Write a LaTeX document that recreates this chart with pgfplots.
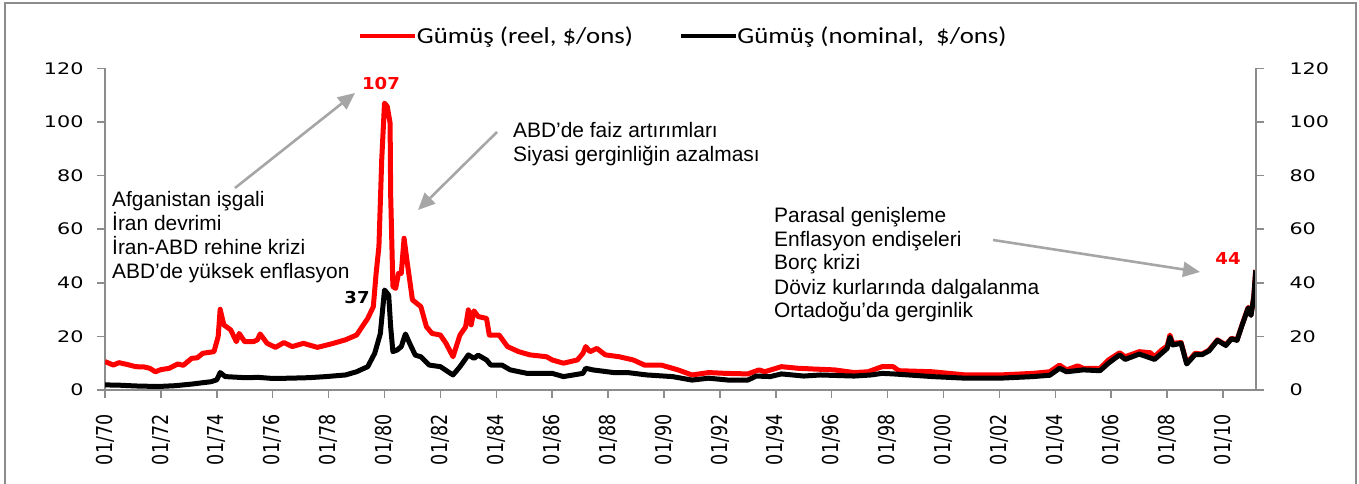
\documentclass[border=0pt]{standalone}
\usepackage{fontspec}
\usepackage{graphicx}
\usepackage{pgfplots}
\pgfplotsset{compat=1.18}
\usetikzlibrary{arrows.meta}
\setmainfont{Liberation Sans}
\newfontfamily\tickfont[FakeStretch=1.3]{DejaVu Sans}
\newfontfamily\xfont[FakeStretch=0.8]{DejaVu Sans}
\newfontfamily\legfont[FakeStretch=1.17]{Carlito}
\newfontfamily\numfont[FakeStretch=1.1]{DejaVu Sans}
\newcommand{\xl}[1]{\rotatebox{90}{#1}}
\definecolor{axgray}{HTML}{8C8C8C}
\definecolor{arrgray}{HTML}{A6A6A6}
\definecolor{myred}{HTML}{FF0000}
\begin{document}
\begin{tikzpicture}[x=1bp,y=1bp]
\path[use as bounding box] (0,0) rectangle (1359,484);
\draw[axgray, line width=1.8bp] (5,0) -- (5,481) -- (1356,481) -- (1356,0);
\begin{axis}[
  at={(105bp,94bp)}, anchor=south west,
  scale only axis, width=1151bp, height=321.7bp,
  xmin=1970, xmax=2011.18, ymin=0, ymax=120,
  axis x line*=bottom, axis y line*=left,
  axis line style={axgray, line width=1.8bp, -},
  tick align=outside, major tick length=8bp,
  tick style={axgray, line width=1.5bp},
  xtick={1970,1972,...,2010},
  xticklabels={\xl{01/70},\xl{01/72},\xl{01/74},\xl{01/76},\xl{01/78},\xl{01/80},\xl{01/82},\xl{01/84},\xl{01/86},\xl{01/88},\xl{01/90},\xl{01/92},\xl{01/94},\xl{01/96},\xl{01/98},\xl{01/00},\xl{01/02},\xl{01/04},\xl{01/06},\xl{01/08},\xl{01/10}},
  xticklabel style={font=\xfont\fontsize{22}{22}\selectfont, anchor=north, yshift=-13bp},
  ytick={0,20,...,120},
  yticklabel style={font=\tickfont\fontsize{16}{16}\selectfont, anchor=east, xshift=-10bp},
  /pgf/number format/assume math mode=true,
  legend columns=2,
  legend style={draw=none, fill=none, at={(0.5,1)}, anchor=south, yshift=19bp, xshift=3bp,
    font=\legfont\fontsize{23}{23}\selectfont,
    /tikz/every odd column/.append style={column sep=-2bp},
    /tikz/every even column/.append style={column sep=44bp}},
  legend image code/.code={\draw[#1, line width=3.5bp] (0bp,0bp) -- (55bp,0bp);},
]
\addplot[myred, line width=5bp, line join=round] coordinates {
(1970.0,10.6)(1970.3,9.3)(1970.5,10.2)(1970.8,9.5)(1971.1,8.7)(1971.4,8.6)(1971.6,8.1)(1971.8,6.8)
(1972.0,7.6)(1972.3,8.1)(1972.6,9.7)(1972.8,9.2)(1973.1,11.8)(1973.3,12.0)(1973.5,13.7)(1973.9,14.3)
(1974.05,20.0)(1974.12,30.1)(1974.25,24.3)(1974.5,22.4)(1974.7,18.0)(1974.8,21.1)(1975.0,18.0)
(1975.3,18.0)(1975.45,18.7)(1975.55,20.9)(1975.8,17.4)(1976.1,15.9)(1976.4,17.7)(1976.7,16.2)
(1977.1,17.4)(1977.6,15.9)(1978.1,17.2)(1978.6,18.7)(1979.0,20.5)(1979.2,23.6)(1979.4,26.7)
(1979.6,31.1)(1979.7,43.5)(1979.8,53.5)(1979.9,85.8)(1980.0,107)(1980.1,105.7)(1980.2,99.5)
(1980.22,73)(1980.3,38.6)(1980.4,37.9)(1980.5,43.5)(1980.6,43.5)(1980.7,56.6)(1980.8,48.5)
(1981.0,33.6)(1981.3,31.1)(1981.5,23.6)(1981.7,21.1)(1982.0,20.5)(1982.2,17.4)(1982.45,12.4)
(1982.7,20.5)(1982.9,23.5)(1983.0,29.9)(1983.1,24.3)(1983.2,29.5)(1983.35,27.4)(1983.65,26.7)
(1983.75,20.5)(1984.1,20.5)(1984.4,16.2)(1984.8,14.3)(1985.2,13.1)(1985.8,12.4)(1986.0,11.2)
(1986.4,10.0)(1986.9,11.2)(1987.1,13.7)(1987.2,16.2)(1987.35,14.3)(1987.6,15.5)(1987.9,13.1)
(1988.4,12.4)(1988.9,11.2)(1989.3,9.3)(1989.9,9.3)(1990.5,7.5)(1991.0,5.6)(1991.6,6.5)(1992.2,6.2)
(1993.0,6.0)(1993.4,7.5)(1993.6,6.8)(1994.2,8.7)(1994.8,8.1)(1995.4,7.8)(1996.1,7.5)(1996.8,6.5)
(1997.3,6.8)(1997.8,8.7)(1998.2,8.7)(1998.4,7.2)(1999.6,6.8)(2000.8,5.6)(2002.0,5.6)(2003.2,6.2)
(2003.8,6.8)(2004.15,9.3)(2004.4,7.5)(2004.8,9.0)(2005.0,8.1)(2005.6,8.1)(2005.9,11.2)(2006.3,13.9)
(2006.5,12.4)(2007.0,14.3)(2007.4,13.9)(2007.55,12.4)(2007.8,14.9)(2008.0,16.4)(2008.1,20.5)
(2008.2,17.4)(2008.5,17.7)(2008.7,10.0)(2009.0,13.7)(2009.25,13.4)(2009.5,14.9)(2009.8,18.7)
(2010.1,16.8)(2010.3,19.3)(2010.5,18.7)(2010.7,24.9)(2010.9,30.8)(2011.0,28.0)(2011.1,34.8)(2011.17,44.8)
};
\addlegendentry{Gümüş (reel, \$/ons)}
\addplot[black, line width=5bp, line join=round] coordinates {
(1970.0,1.9)(1970.5,1.8)(1971.1,1.5)(1971.9,1.3)(1972.5,1.6)(1973.1,2.2)(1973.8,3.1)(1974.0,3.8)
(1974.12,6.5)(1974.3,5.0)(1975.0,4.6)(1975.5,4.7)(1976.0,4.3)(1976.6,4.4)(1977.3,4.6)(1977.9,5.0)
(1978.6,5.6)(1979.0,6.8)(1979.4,8.7)(1979.65,13.7)(1979.85,21.0)(1980.0,37.3)(1980.15,35.4)
(1980.22,23.6)(1980.3,14.3)(1980.45,14.9)(1980.6,16.2)(1980.75,20.9)(1980.9,17.4)(1981.1,13.0)
(1981.3,12.4)(1981.6,9.3)(1982.0,8.7)(1982.45,5.6)(1982.7,8.7)(1983.0,13.1)(1983.2,11.8)
(1983.35,13.0)(1983.65,11.2)(1983.8,9.3)(1984.2,9.3)(1984.5,7.5)(1985.1,6.2)(1986.0,6.2)(1986.4,5.0)
(1987.1,6.2)(1987.2,8.1)(1987.45,7.5)(1988.2,6.5)(1988.7,6.5)(1989.4,5.6)(1990.3,5.0)(1991.0,3.7)
(1991.6,4.4)(1992.3,3.7)(1993.0,3.7)(1993.3,5.2)(1993.8,5.0)(1994.2,6.0)(1995.0,5.2)(1995.6,5.6)
(1996.8,5.2)(1997.4,5.6)(1997.8,6.2)(1998.2,6.0)(1999.6,5.0)(2000.8,4.4)(2002.0,4.4)(2003.2,5.0)
(2003.8,5.5)(2004.15,8.1)(2004.4,6.8)(2005.0,7.5)(2005.6,7.2)(2005.9,10.0)(2006.3,13.1)(2006.5,11.4)
(2007.0,13.4)(2007.55,11.4)(2008.0,15.5)(2008.1,19.7)(2008.2,16.8)(2008.5,17.4)(2008.7,9.7)
(2009.0,13.2)(2009.25,13.2)(2009.5,14.6)(2009.8,18.5)(2010.1,16.6)(2010.3,19.1)(2010.5,18.5)
(2010.7,24.7)(2010.9,30.6)(2011.0,27.8)(2011.1,34.6)(2011.17,44.6)
};
\addlegendentry{Gümüş (nominal, \ \$/ons)}
\end{axis}
\begin{axis}[
  at={(105bp,94bp)}, anchor=south west,
  scale only axis, width=1151bp, height=321.7bp,
  xmin=1970, xmax=2011.18, ymin=0, ymax=120,
  axis x line=none, axis y line*=right,
  axis line style={axgray, line width=1.8bp, -},
  tick align=outside, major tick length=8bp,
  tick style={axgray, line width=1.5bp},
  ytick={0,20,...,120},
  yticklabel style={font=\tickfont\fontsize{16}{16}\selectfont, anchor=west, xshift=22bp},
  /pgf/number format/assume math mode=true,
]
\addplot[draw=none] coordinates {(1970,0)};
\end{axis}
% annotations
\draw[arrgray, line width=2.6bp, -{Triangle[length=17bp,width=15bp]}] (235,296) -- (355,391);
\draw[arrgray, line width=2.6bp, -{Triangle[length=17bp,width=15bp]}] (497,352) -- (418,274);
\draw[arrgray, line width=2.6bp, -{Triangle[length=17bp,width=15bp]}] (993,244) -- (1200,212);
\node[myred, font=\numfont\bfseries\fontsize{16.5}{16.5}\selectfont] at (381,400) {107};
\node[black, font=\numfont\bfseries\fontsize{16.5}{16.5}\selectfont] at (357,186) {37};
\node[myred, font=\numfont\bfseries\fontsize{16.5}{16.5}\selectfont] at (1228,225) {44};
\begin{scope}[every node/.style={anchor=base west, inner sep=0pt, font=\fontsize{21}{24}\selectfont}]
\node at (112,277) {Afganistan işgali};
\node at (112,253) {İran devrimi};
\node at (112,229) {İran-ABD rehine krizi};
\node at (112,205) {ABD’de yüksek enflasyon};
\node at (513,346) {ABD’de faiz artırımları};
\node at (513,322) {Siyasi gerginliğin azalması};
\node at (774,261) {Parasal genişleme};
\node at (774,237) {Enflasyon endişeleri};
\node at (774,214) {Borç krizi};
\node at (774,189) {Döviz kurlarında dalgalanma};
\node at (774,166) {Ortadoğu’da gerginlik};
\end{scope}
\end{tikzpicture}
\end{document}
